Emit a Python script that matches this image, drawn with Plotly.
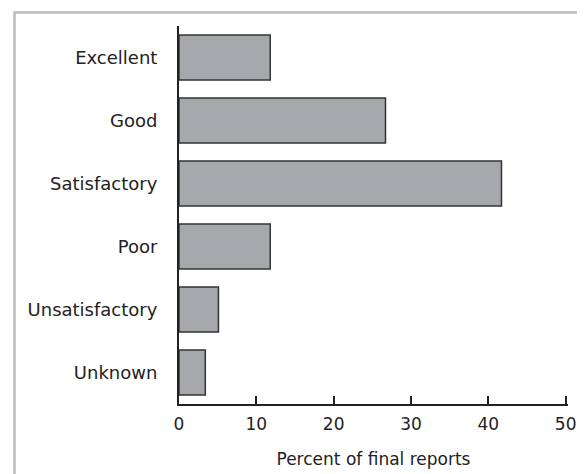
import plotly.graph_objects as go

categories = ["Excellent", "Good", "Satisfactory", "Poor", "Unsatisfactory", "Unknown"]
percent = [11.8, 26.7, 41.7, 11.8, 5.1, 3.4]
x_ticks = [0, 10, 20, 30, 40, 50]

# page body has an 8px offset; figure sized to fit the window
OFF = 8
W, H = 585 - OFF, 474 - OFF
L, R, T, B = 179 - OFF, 17, 26 - OFF, 70

fig = go.Figure(go.Bar(
    x=percent, y=categories, orientation="h",
    marker=dict(color="#a7a8ab", line=dict(color="#333333", width=1.5)),
    hoverinfo="skip",
))

pw = W - L - R
ph = H - T - B
def px2x(px):
    return (px - OFF - L) / pw
def py2y(py):
    return (H - B - (py - OFF)) / ph

fig.add_shape(type="path", xref="paper", yref="paper",
              path=f"M {px2x(14.5)},{py2y(480)} L {px2x(14.5)},{py2y(12.5)} L {px2x(600)},{py2y(12.5)}",
              line=dict(color="#bcbcbc", width=2.5))

fig.update_layout(
    width=W, height=H,
    margin=dict(l=L, r=R, t=T, b=B, autoexpand=False),
    paper_bgcolor="white", plot_bgcolor="white",
    bargap=0.286,
    showlegend=False,
    font=dict(family="DejaVu Sans", color="#222222", size=18),
    xaxis=dict(
        range=[0, 50.3], tickvals=x_ticks, ticks="inside", ticklen=8, tickwidth=2,
        tickcolor="#222222", showline=True, linecolor="#222222", linewidth=2,
        showgrid=False, zeroline=False, tickfont=dict(size=17), ticklabelstandoff=4,
        title=dict(text="Percent of final reports", font=dict(size=17), standoff=20),
    ),
    yaxis=dict(
        categoryorder="array", categoryarray=categories[::-1],
        range=[-0.5, 5.5], showline=True, linecolor="#222222", linewidth=2,
        showgrid=False, zeroline=False, ticks="", ticklabelstandoff=16,
        tickfont=dict(size=18),
    ),
)

fig.write_html("out.html")
